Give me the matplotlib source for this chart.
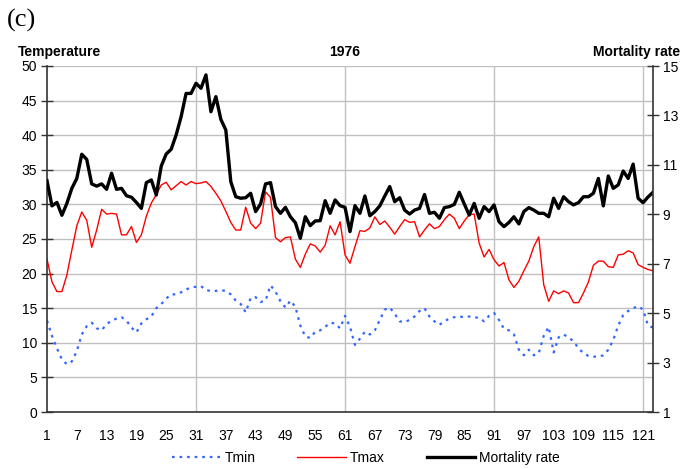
import matplotlib
matplotlib.use("Agg")
import matplotlib.pyplot as plt
from matplotlib.ticker import FixedLocator

plt.rcParams['font.family'] = ['Liberation Sans', 'DejaVu Sans']

# daily values, 1976 (day index 1..123)
days = list(range(1, 124))

tmin = [13.2, 11.0, 9.2, 7.6, 6.9, 7.3, 8.8, 11.2, 12.4, 12.9,
        12.1, 11.8, 12.7, 13.2, 13.5, 13.7, 13.2, 12.2, 11.5, 12.8,
        13.4, 13.8, 15.0, 15.6, 16.4, 17.0, 17.0, 17.3, 17.7, 18.0,
        18.1, 18.2, 17.6, 17.5, 17.5, 17.6, 17.5, 17.0, 16.1, 15.6,
        14.4, 16.5, 16.6, 15.9, 16.1, 18.3, 17.4, 16.0, 15.1, 16.1,
        15.2, 12.5, 10.9, 10.7, 11.6, 11.8, 12.3, 12.9, 12.8, 12.1,
        13.9, 12.3, 9.7, 10.6, 11.6, 11.2, 11.8, 13.3, 14.8, 15.1,
        14.2, 13.1, 13.0, 13.3, 13.8, 14.6, 15.0, 13.8, 13.1, 12.6,
        13.1, 13.5, 13.7, 13.8, 13.7, 13.8, 13.7, 13.6, 13.1, 13.9,
        14.3, 13.3, 12.0, 11.8, 11.2, 9.0, 8.2, 9.0, 8.2, 8.5,
        11.0, 12.3, 8.6, 10.8, 11.2, 10.8, 10.2, 9.2, 8.5, 8.1,
        8.0, 8.0, 8.2, 9.0, 10.4, 12.5, 14.0, 14.6, 15.0, 15.3,
        14.8, 12.5, 12.2]

tmax = [22.1, 18.8, 17.4, 17.4, 19.8, 23.4, 26.9, 28.9, 27.7, 23.8,
        26.3, 29.3, 28.6, 28.7, 28.6, 25.6, 25.6, 26.8, 24.5, 25.6,
        28.3, 30.2, 31.4, 32.8, 33.2, 32.1, 32.7, 33.3, 32.8, 33.3,
        33.0, 33.1, 33.3, 32.6, 31.6, 30.5, 29.0, 27.4, 26.3, 26.3,
        29.6, 27.3, 26.5, 27.3, 31.8, 31.0, 25.2, 24.6, 25.2, 25.3,
        22.1, 20.9, 22.8, 24.3, 24.0, 23.1, 24.1, 26.9, 25.6, 27.5,
        22.7, 21.5, 23.9, 26.2, 26.1, 26.6, 28.2, 27.1, 27.6, 26.7,
        25.7, 26.8, 27.8, 27.4, 27.5, 25.3, 26.3, 27.2, 26.5, 26.8,
        27.8, 28.6, 28.0, 26.5, 27.6, 28.5, 28.6, 24.4, 22.4, 23.5,
        22.0, 21.1, 21.6, 19.1, 18.0, 18.9, 20.4, 21.8, 23.9, 25.3,
        18.4, 16.0, 17.5, 17.1, 17.5, 17.2, 15.8, 15.8, 17.2, 18.8,
        21.2, 21.8, 21.8, 21.0, 20.9, 22.7, 22.8, 23.3, 23.0, 21.3,
        20.9, 20.6, 20.4]

mortality = [10.36, 9.34, 9.48, 8.96, 9.44, 10.05, 10.45, 11.43, 11.22, 10.23,
             10.14, 10.23, 10.01, 10.66, 10.01, 10.05, 9.75, 9.69, 9.48, 9.24,
             10.28, 10.39, 9.78, 10.95, 11.44, 11.63, 12.21, 12.95, 13.89, 13.89,
             14.30, 14.10, 14.64, 13.15, 13.76, 12.84, 12.41, 10.32, 9.71, 9.65,
             9.67, 9.85, 9.11, 9.42, 10.23, 10.28, 9.31, 9.04, 9.28, 8.90,
             8.66, 8.03, 8.90, 8.54, 8.73, 8.74, 9.55, 9.04, 9.58, 9.35,
             9.28, 8.30, 9.35, 9.04, 9.74, 8.94, 9.11, 9.34, 9.74, 10.12,
             9.51, 9.67, 9.17, 9.01, 9.17, 9.24, 9.80, 9.04, 9.08, 8.84,
             9.27, 9.31, 9.40, 9.89, 9.42, 8.97, 9.44, 8.84, 9.31, 9.11,
             9.38, 8.70, 8.50, 8.67, 8.90, 8.61, 9.11, 9.27, 9.17, 9.04,
             9.04, 8.90, 9.65, 9.24, 9.71, 9.51, 9.38, 9.47, 9.71, 9.71,
             9.85, 10.45, 9.34, 10.55, 10.05, 10.19, 10.75, 10.45, 11.03, 9.65,
             9.47, 9.70, 9.89]

xlabels = list(range(1, 122, 6))


fig = plt.figure(figsize=(6.8, 4.69), dpi=100)
ax = fig.add_axes([47 / 680, 1 - 412 / 469, 606 / 680, 346 / 469])
ax2 = ax.twinx()

grid_col = '#c0c0c0'
for v in range(5, 51, 5):
    ax.axhline(v, color=grid_col, lw=1, zorder=0)
for d in (31, 61, 91, 121):
    ax.axvline(d, color=grid_col, lw=1, zorder=0)

l1, = ax.plot(days, tmin, color='#3366ff', lw=1.6, ls=(0, (1.2, 2.2)), label='Tmin')
l2, = ax.plot(days, tmax, color='#ff0000', lw=1.0, label='Tmax')
l3, = ax2.plot(days, mortality, color='black', lw=2.4, label='Mortality rate')

ax.set_xlim(1, 123)
ax.set_ylim(0, 50)
ax2.set_ylim(1, 15)
ax.set_yticks(range(0, 51, 5))
ax2.set_yticks(range(1, 16, 2))
ax.set_xticks(xlabels)
ax.xaxis.set_minor_locator(FixedLocator([1, 31, 61, 91, 121]))

for a in (ax, ax2):
    a.spines['top'].set_visible(False)
ax.spines['right'].set_visible(False)
ax2.spines['left'].set_visible(False)
ax2.spines['bottom'].set_visible(False)
for s in (ax.spines['left'], ax.spines['bottom'], ax2.spines['right']):
    s.set_color('#333333')
    s.set_linewidth(1.2)

ax.tick_params(axis='x', which='major', length=0, pad=12, labelsize=10)
ax.tick_params(axis='x', which='minor', direction='inout', length=8, width=1, color='#333333')
ax.tick_params(axis='y', direction='inout', length=8, width=1, color='#333333', labelsize=10, pad=3)
ax2.tick_params(axis='y', direction='inout', length=8, width=1, color='#333333', labelsize=10, pad=3)

fig.text(7 / 680, 1 - 20 / 469, '(c)', family='Liberation Serif', fontsize=19, va='center', ha='left')
fig.text(18 / 680, 1 - 52 / 469, 'Temperature', fontsize=10, fontweight='bold', va='center', ha='left')
fig.text(345 / 680, 1 - 52 / 469, '1976', fontsize=10, fontweight='bold', va='center', ha='center')
fig.text(680 / 680, 1 - 52 / 469, 'Mortality rate', fontsize=10, fontweight='bold', va='center', ha='right')

fig.legend(handles=[l1, l2, l3], loc='center', bbox_to_anchor=(366 / 680, 1 - 458 / 469),
           ncol=3, frameon=False, fontsize=10, handlelength=3.5, columnspacing=3.0,
           handletextpad=0.3)

fig.savefig('out.png', dpi=100)
